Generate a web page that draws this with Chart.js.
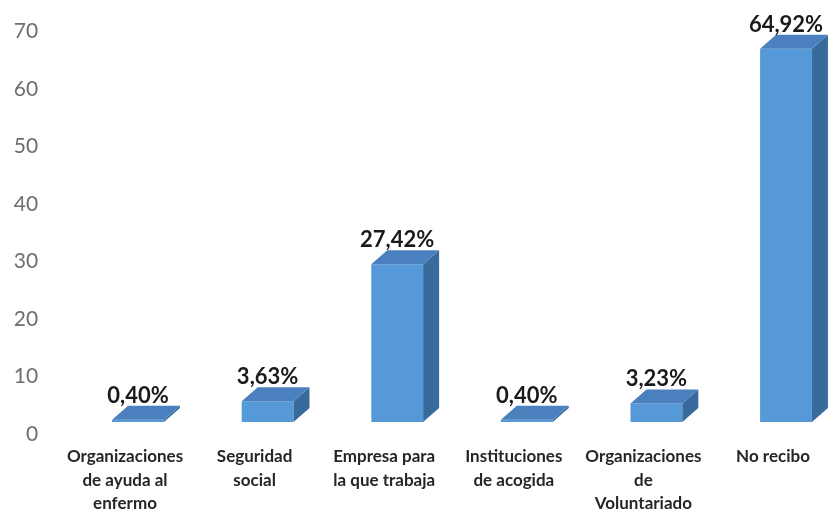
<!DOCTYPE html>
<html>
<head>
<meta charset="utf-8">
<script src="https://cdn.jsdelivr.net/npm/chart.js@4.4.1/dist/chart.umd.min.js"></script>
<style>
  html, body { margin: 0; padding: 0; background: #ffffff; overflow: hidden; }
  #wrap { width: 860px; height: 510px; position: relative; }
</style>
</head>
<body>
<div id="wrap"><canvas id="c"></canvas></div>
<script>
// Categorías del eje horizontal (una línea por elemento)
const categories = [
  ['Organizaciones', 'de ayuda al', 'enfermo'],
  ['Seguridad', 'social'],
  ['Empresa para', 'la que trabaja'],
  ['Instituciones', 'de acogida'],
  ['Organizaciones', 'de', 'Voluntariado'],
  ['No recibo']
];
// Porcentaje de respuestas por tipo de ayuda
const values = [0.40, 3.63, 27.42, 0.40, 3.23, 64.92];
// Marcas del eje vertical
const yTicks = [0, 10, 20, 30, 40, 50, 60, 70];

// Profundidad del efecto 3D
const DEPTH_X = 16;
const DEPTH_Y = 14;
const FRONT = '#5699d8';
const SIDE = '#386a9c';
const TOP = '#4a80bd';

const fmt = v => v.toFixed(2).replace('.', ',') + '%';

// Dibuja las caras superior y lateral de cada barra y su etiqueta de valor
const bars3d = {
  id: 'bars3d',
  afterDatasetsDraw(chart) {
    const ctx = chart.ctx;
    const meta = chart.getDatasetMeta(0);
    meta.data.forEach((bar, i) => {
      const p = bar.getProps(['x', 'y', 'base', 'width'], true);
      const L = p.x - p.width / 2, R = p.x + p.width / 2;
      const top = p.y, base = p.base;
      ctx.save();
      // cara lateral
      ctx.fillStyle = SIDE;
      ctx.beginPath();
      ctx.moveTo(R, top);
      ctx.lineTo(R + DEPTH_X, top - DEPTH_Y);
      ctx.lineTo(R + DEPTH_X, base - DEPTH_Y);
      ctx.lineTo(R, base);
      ctx.closePath();
      ctx.fill();
      // cara superior
      ctx.fillStyle = TOP;
      ctx.beginPath();
      ctx.moveTo(L, top);
      ctx.lineTo(L + DEPTH_X, top - DEPTH_Y);
      ctx.lineTo(R + DEPTH_X, top - DEPTH_Y);
      ctx.lineTo(R, top);
      ctx.closePath();
      ctx.fill();
      // etiqueta
      ctx.fillStyle = '#1a1a1a';
      ctx.font = 'bold 22px Lato';
      ctx.textAlign = 'center';
      ctx.textBaseline = 'alphabetic';
      ctx.fillText(fmt(values[i]), p.x, top - DEPTH_Y - 3);
      ctx.restore();
    });
  }
};

new Chart(document.getElementById('c'), {
  type: 'bar',
  data: {
    labels: categories,
    datasets: [{
      data: values,
      backgroundColor: FRONT,
      borderWidth: 0,
      barPercentage: 0.4,
      categoryPercentage: 1.0
    }]
  },
  options: {
    responsive: true,
    maintainAspectRatio: false,
    animation: false,
    layout: { padding: { top: 19.5, right: 9.2, left: 0, bottom: 0 } },
    plugins: { legend: { display: false }, tooltip: { enabled: false } },
    scales: {
      x: {
        grid: { display: false, drawTicks: false },
        border: { display: false },
        afterFit(s) { s.height = 88; s.paddingLeft = 0; s.paddingRight = 0; },
        ticks: {
          color: '#262626',
          font: { family: 'Lato', size: 17, weight: 'bold', lineHeight: 1.38 },
          padding: 23,
          labelOffset: -13,
          maxRotation: 0,
          autoSkip: false
        }
      },
      y: {
        min: 0,
        max: 70,
        afterFit(s) { s.width = 73.2; s.paddingTop = 0; s.paddingBottom = 0; },
        afterBuildTicks(s) { s.ticks = yTicks.map(v => ({ value: v })); },
        grid: { display: false, drawTicks: false },
        border: { display: false },
        ticks: {
          color: '#6e6e6e',
          font: { family: 'Lato', size: 21 },
          padding: 35,
          labelOffset: 12
        }
      }
    }
  },
  plugins: [bars3d]
});
</script>
</body>
</html>
